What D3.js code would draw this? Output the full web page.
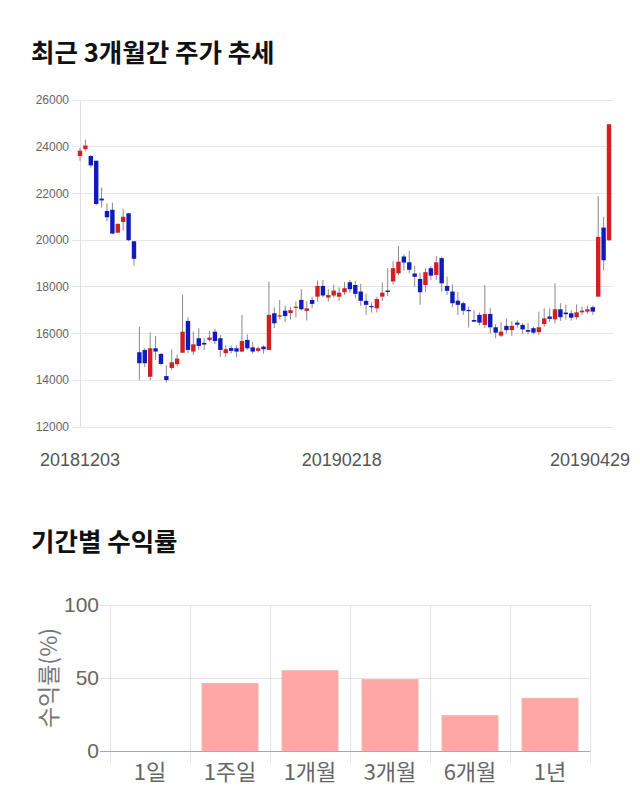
<!DOCTYPE html>
<html><head><meta charset="utf-8">
<script src="https://cdn.jsdelivr.net/npm/d3@7"></script>
<style>
body{margin:0;background:#fff;}
svg{display:block;}
</style></head>
<body>
<svg id="c" width="640" height="810"></svg>
<script>
const dates = [
"20181203","20181204","20181205","20181206","20181207","20181210","20181211","20181212","20181213","20181214",
"20181217","20181218","20181219","20181220","20181221","20181224","20181226","20181227","20181228",
"20190102","20190103","20190104","20190107","20190108","20190109","20190110","20190111","20190114","20190115",
"20190116","20190117","20190118","20190121","20190122","20190123","20190124","20190125","20190128","20190129",
"20190130","20190131",
"20190201","20190207","20190208","20190211","20190212","20190213","20190214","20190215","20190218","20190219",
"20190220","20190221","20190222","20190225","20190226","20190227","20190228",
"20190304","20190305","20190306","20190307","20190308","20190311","20190312","20190313","20190314","20190315",
"20190318","20190319","20190320","20190321","20190322","20190325","20190326","20190327","20190328","20190329",
"20190401","20190402","20190403","20190404","20190405","20190408","20190409","20190410","20190411","20190412",
"20190415","20190416","20190417","20190418","20190419","20190422","20190423","20190424","20190425","20190426",
"20190429"];
const openP = [23600,23900,23600,23400,21780,21250,21300,20320,20780,21150,19950,15200,15300,14150,15370,15130,14180,14530,14690,15180,
16540,15230,15800,15600,15730,16080,15800,15160,15380,15370,15230,15730,15410,15260,15440,15300,16870,16750,16980,16880,
17140,17440,16970,17440,17580,18040,17540,17630,17580,17770,18200,18080,17800,17400,17180,17080,17580,17840,18230,18580,
19300,19050,18570,18340,18080,18800,18510,19230,18040,17800,17410,17300,17010,16580,16800,16370,16840,16270,15910,16330,
16150,16470,16370,16150,16230,16060,16410,16730,16610,17040,16900,16870,16700,16910,16940,17130,17580,20540,20000];
const highP = [23950,24300,23650,23400,22250,21580,21600,20700,21350,21150,19950,16300,15370,16050,15900,15150,14650,15330,15100,17650,
16700,16080,16230,15800,16110,16200,15950,15500,15500,15500,16800,15960,15650,15450,15500,18230,17120,17440,17200,17150,
17370,17900,17380,17580,18270,18300,17900,18100,17980,18200,18300,18250,18130,17700,17330,17580,18200,18800,19100,19750,
19400,19550,18900,18610,18800,18900,19320,19300,18450,18100,17780,17370,17150,17000,16900,18080,17100,16410,16500,16650,
16540,16580,16450,16450,16300,16940,17080,17080,18150,17300,17230,17000,17250,17150,17200,17200,21880,21000,24960];
const lowP = [23400,23800,23100,21500,21400,20800,20250,20300,20400,19950,18900,14000,14560,14000,14870,14650,13900,14440,14600,15180,
15150,15080,15300,15300,15650,15550,15000,14990,15150,15000,15200,15300,15150,15200,15150,15300,16230,16610,16500,16600,
16700,17000,16560,17100,17370,17550,17370,17550,17400,17650,17750,17500,17180,16800,16900,16900,17400,17600,18100,18500,
18700,18580,18000,17230,17780,18300,18300,17800,17650,17130,16800,16800,16270,16500,16350,16230,16000,15800,15850,16000,
15900,16250,15970,15970,15960,15940,16300,16500,16440,16540,16600,16550,16600,16800,16850,16800,17580,18710,19950];
const closeP = [23830,24050,23200,21550,21700,20980,20280,20700,21000,20000,19200,14730,14730,15370,15230,14700,14010,14770,14930,16080,
15300,15540,15470,15530,15830,15680,15300,15330,15260,15230,15680,15370,15230,15370,15330,16800,16440,16780,16750,17000,
17150,17040,17080,17270,18040,17630,17650,17840,17750,17940,17900,17700,17400,17230,17130,17480,17750,17780,18800,19080,
19040,18730,18430,17770,18630,18480,19050,18150,17830,17300,17230,16980,16960,16510,16470,16840,16270,16040,16080,16150,
16330,16380,16180,16080,16040,16270,16650,16630,17040,16700,16830,16680,16910,16980,17040,16940,20140,19140,24960];
const priceTicks = [12000,14000,16000,18000,20000,22000,24000,26000];
const dateLabels = ["20181203","20190218","20190429"];

const periods = ["1일","1주일","1개월","3개월","6개월","1년"];
const returns = [0, 46.3, 55.0, 48.9, 24.2, 36.1];
const returnTicks = [0,50,100];

const svg = d3.select("#c");
const KR = "'Noto Sans CJK KR','Noto Sans',sans-serif";
const LAT = "'Liberation Sans',Arial,sans-serif";

// ---- Titles
svg.append("text").attr("x",31).attr("y",61.5).text("최근 3개월간 주가 추세")
  .style("font-family",KR).style("font-weight","700").style("font-size","25.5px").attr("fill","#111");
svg.append("text").attr("x",31).attr("y",551).text("기간별 수익률")
  .style("font-family",KR).style("font-weight","700").style("font-size","25.5px").attr("fill","#111");

// ---- Candlestick chart
const x = d3.scalePoint().domain(dates).range([80,609]);
const y = d3.scaleLinear().domain([12000,26000]).range([427,100]);
const gGrid = svg.append("g");
priceTicks.forEach(t=>{
  gGrid.append("line").attr("x1",72).attr("x2",613).attr("y1",y(t)).attr("y2",y(t))
    .attr("stroke","#e6e6e6").attr("stroke-width",1).attr("shape-rendering","crispEdges");
  gGrid.append("text").attr("x",69).attr("y",y(t)).attr("dy","0.35em").attr("text-anchor","end")
    .text(t).style("font-family",LAT).style("font-size","12px").attr("fill","#666");
});
gGrid.append("line").attr("x1",80).attr("x2",80).attr("y1",y(26000)).attr("y2",y(12000))
  .attr("stroke","#e0e0e0").attr("shape-rendering","crispEdges");

const candles = dates.map((d,i)=>({d,o:openP[i],h:highP[i],l:lowP[i],c:closeP[i]}));
const gC = svg.append("g");
const bw = 4.4;
gC.selectAll("line.w").data(candles).join("line")
  .attr("x1",d=>x(d.d)).attr("x2",d=>x(d.d))
  .attr("y1",d=>y(d.h)).attr("y2",d=>y(d.l))
  .attr("stroke","#8a8a8a").attr("stroke-width",1);
gC.selectAll("rect").data(candles).join("rect")
  .attr("x",d=>x(d.d)-bw/2).attr("width",bw)
  .attr("y",d=>y(Math.max(d.o,d.c)))
  .attr("height",d=>Math.max(1.2,Math.abs(y(d.o)-y(d.c))))
  .attr("fill",d=>d.c>=d.o?"#d11f22":"#0f1bbd");

dateLabels.forEach(lbl=>{
  const cx = x(lbl) - x.step()/2;
  const t = svg.append("text").attr("x",Math.max(cx, x(lbl) - x.step()) ).attr("y",466).attr("text-anchor","middle")
    .text(lbl).style("font-family",LAT).style("font-size","18px").attr("fill","#555");
  if (lbl === dates[0]) t.attr("x", x(lbl));
  const w = t.node().getComputedTextLength();
  if (+t.attr("x")+w/2 > 630) t.attr("x",630-w/2);
});

// ---- Returns bar chart
const xb = d3.scaleBand().domain(periods).range([110,590]).paddingInner(0.3).paddingOuter(0.15);
const yb = d3.scaleLinear().domain([0,100]).range([751,605]);
const step = xb.step();
const gB = svg.append("g");
returnTicks.forEach(t=>{
  if (t>0) gB.append("line").attr("x1",100).attr("x2",590).attr("y1",yb(t)).attr("y2",yb(t))
    .attr("stroke","#e3e3e3").attr("shape-rendering","crispEdges");
  gB.append("text").attr("x",99).attr("y",yb(t)).attr("dy","0.35em").attr("text-anchor","end")
    .text(t).style("font-family",LAT).style("font-size","21px").attr("fill","#666");
});
const bounds = periods.map(p=>xb(p)-(step-xb.bandwidth())/2).concat([xb(periods[periods.length-1])+xb.bandwidth()+(step-xb.bandwidth())/2]);
bounds.forEach(bx=>{
  gB.append("line").attr("x1",bx).attr("x2",bx).attr("y1",yb(100)).attr("y2",yb(0)+12)
    .attr("stroke","#e3e3e3").attr("shape-rendering","crispEdges");
});
gB.selectAll("rect").data(periods).join("rect")
  .attr("x",p=>xb(p)).attr("width",xb.bandwidth())
  .attr("y",(p,i)=>yb(returns[i])).attr("height",(p,i)=>yb(0)-yb(returns[i]))
  .attr("fill","#ffa6a6").attr("stroke","#f6b4b4").attr("stroke-width",1);
gB.append("line").attr("x1",100).attr("x2",590).attr("y1",yb(0)).attr("y2",yb(0))
  .attr("stroke","#a8a8a8").attr("shape-rendering","crispEdges");
periods.forEach(p=>{
  gB.append("text").attr("x",xb(p)+xb.bandwidth()/2).attr("y",780).attr("text-anchor","middle")
    .text(p).style("font-family",KR).style("font-size","22px").attr("fill","#666");
});
svg.append("text").attr("transform","translate(57,678) rotate(-90)").attr("text-anchor","middle")
  .text("수익률(%)").style("font-family",KR).style("font-size","23px").attr("fill","#777");
</script>
</body></html>
